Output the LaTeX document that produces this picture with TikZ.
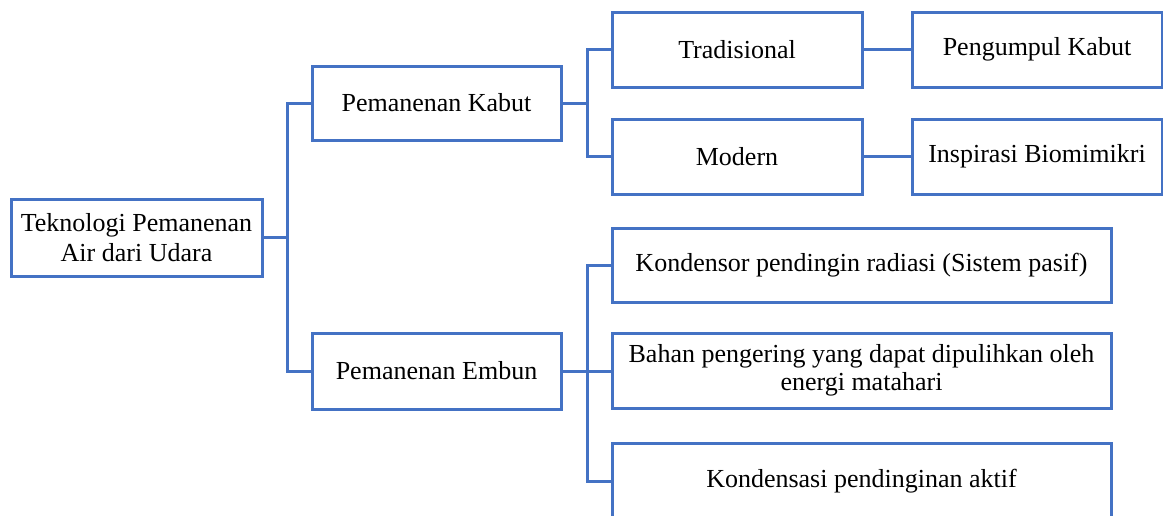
\documentclass[tikz,border=0pt]{standalone}
\usepackage{fontspec}
\setmainfont{Liberation Serif}
\definecolor{boxblue}{HTML}{4472C4}
\begin{document}
\begin{tikzpicture}[x=1pt,y=-1pt,
  box/.style={draw=boxblue,line width=3pt,fill=white,align=center,inner sep=0pt,
    font=\fontsize{26}{30}\selectfont,text=black},
  conn/.style={draw=boxblue,line width=3pt,line join=miter}]
\useasboundingbox (0,0) rectangle (1163,515);
\clip (0,0) rectangle (1163,515);
\node[box,minimum width=251pt,minimum height=77pt] (root) at (136.5,237.5) {Teknologi Pemanenan\\Air dari Udara};
\node[box,minimum width=249pt,minimum height=74pt] (kabut) at (436.5,103) {Pemanenan Kabut};
\node[box,minimum width=249pt,minimum height=76pt] (embun) at (436.5,371) {Pemanenan Embun};
\node[box,minimum width=250pt,minimum height=75pt] (trad) at (737,49.5) {Tradisional};
\node[box,minimum width=250pt,minimum height=75pt] (modern) at (737,156.5) {Modern};
\node[box,minimum width=250pt,minimum height=75pt] (peng) at (1037,49.5) {Pengumpul Kabut};
\node[box,minimum width=250pt,minimum height=75pt] (bio) at (1037,156.5) {Inspirasi Biomimikri};
\node[box,minimum width=499pt,minimum height=74pt] (kond) at (861.5,265) {Kondensor pendingin radiasi (Sistem pasif)};
\node[box,minimum width=499pt,minimum height=75pt,font=\fontsize{26}{28}\selectfont,text depth=8pt] (bahan) at (861.5,371) {Bahan pengering yang dapat dipulihkan oleh\\energi matahari};
\node[box,minimum width=499pt,minimum height=76pt] (aktif) at (861.5,481) {Kondensasi pendinginan aktif};
\coordinate (j1) at (287,237.5);
\coordinate (j2) at (587,103);
\coordinate (j3) at (587,371);
\draw[conn] (root.east) -- (j1);
\draw[conn] (kabut.west) -| (j1) |- (embun.west);
\draw[conn] (kabut.east) -- (j2);
\draw[conn] (trad.west) -| (j2) |- (modern.west);
\draw[conn] (trad.east) -- (peng.west);
\draw[conn] (modern.east) -- (bio.west);
\draw[conn] (embun.east) -- (bahan.west);
\draw[conn] (kond.west) -| (j3) |- (aktif.west);
\end{tikzpicture}
\end{document}
